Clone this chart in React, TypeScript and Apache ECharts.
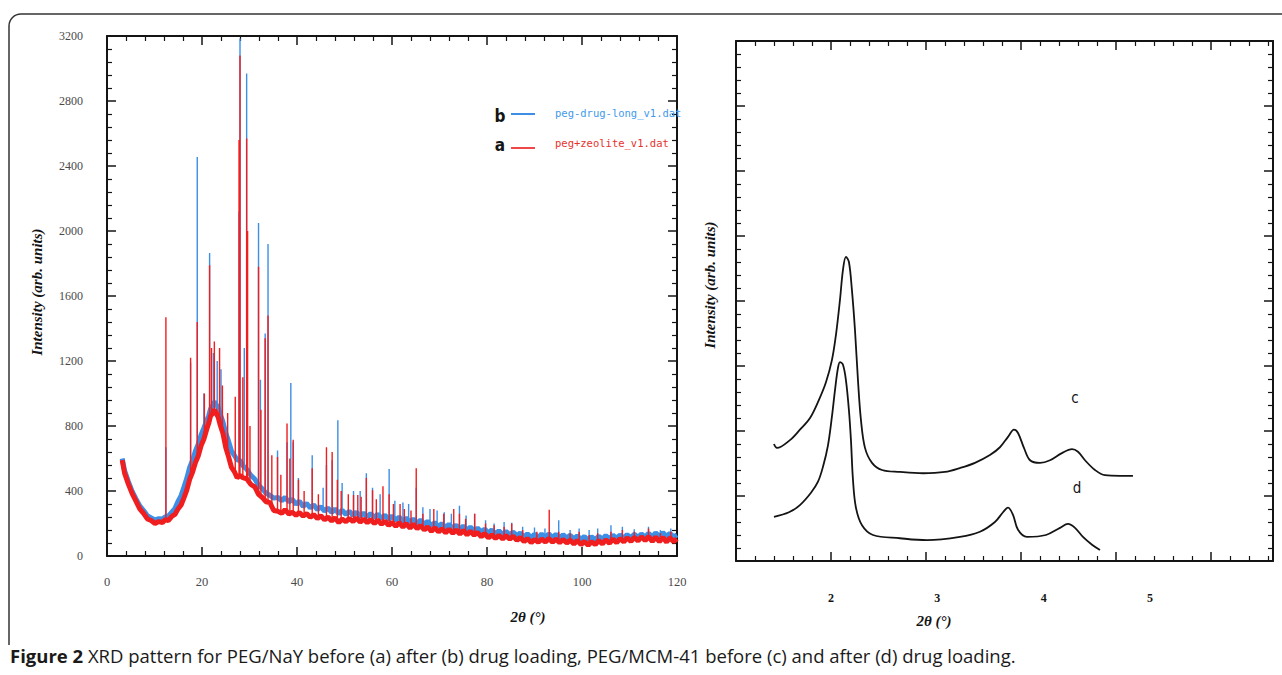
import React, { useEffect, useRef } from "react";
import * as echarts from "echarts";

// ---------- Left panel: XRD of PEG/NaY (a = before, b = after drug loading) ----------
const leftXTickStep = 20;
const leftYTickStep = 400;
const leftXRange = [0, 120];
const leftYRange = [0, 3200];

// noisy background of each pattern, [2θ, intensity]
const bandB: number[][] = [
  [3.2, 600], [3.7, 525], [4.5, 458], [5.3, 398], [6.1, 352], [6.9, 308], [7.7, 280], [8.5, 248],
  [9.3, 235], [10.1, 222], [10.9, 230], [11.7, 228], [12.3, 242], [12.9, 245], [13.7, 272], [14.3, 292],
  [14.9, 333], [15.6, 372], [16.2, 424], [16.8, 478], [17.4, 545], [18.0, 588], [18.6, 645], [19.2, 688],
  [19.8, 745], [20.4, 788], [21.0, 835], [21.4, 862], [21.8, 905], [22.2, 922], [22.6, 950], [23.0, 930],
  [23.4, 915], [23.8, 876], [24.4, 825], [25.0, 756], [25.6, 705], [26.2, 646], [26.8, 620], [27.4, 592],
  [28.0, 588], [28.6, 556], [29.4, 535], [30.3, 496], [31.1, 474], [31.9, 436], [32.7, 414], [33.5, 386],
  [34.3, 374], [35.1, 356],
  [36.0, 360], [36.8, 340], [37.5, 362], [38.3, 332], [39.0, 350], [39.8, 318], [40.5, 338], [41.3, 305],
  [42.0, 325], [42.8, 295], [43.5, 315], [44.3, 285], [45.0, 305], [45.8, 275], [46.5, 296], [47.3, 268],
  [48.0, 290], [48.8, 260], [49.5, 282], [50.3, 255], [51.0, 276], [51.8, 250], [52.5, 270], [53.3, 245],
  [54.0, 265], [54.8, 240], [55.5, 262], [56.3, 236], [57.0, 258], [57.8, 230], [58.5, 252], [59.3, 225],
  [60.0, 246], [60.8, 220], [61.5, 240], [62.3, 213], [63.0, 234], [63.8, 208], [64.5, 228], [65.3, 202],
  [66.0, 222], [66.8, 194], [67.5, 214], [68.3, 186], [69.0, 206], [69.8, 180], [70.5, 200], [71.3, 175],
  [72.0, 195], [72.8, 170], [73.5, 190], [74.3, 165], [75.0, 185], [75.8, 160], [76.5, 178], [77.3, 154],
  [78.0, 172], [78.8, 148], [79.5, 166], [80.3, 142], [81.0, 160], [81.8, 136], [82.5, 155], [83.3, 132],
  [84.0, 152], [84.8, 130], [85.5, 148], [86.3, 124], [87.0, 142], [87.8, 118], [88.5, 136], [89.3, 114],
  [90.0, 134], [90.8, 114], [91.5, 135], [92.3, 115], [93.0, 136], [93.8, 114], [94.5, 133], [95.3, 112],
  [96.0, 131], [96.8, 110], [97.5, 128], [98.3, 106], [99.0, 124], [99.8, 102], [100.5, 120], [101.3, 98],
  [102.0, 118], [102.8, 100], [103.5, 122], [104.3, 104], [105.0, 126], [105.8, 106], [106.5, 128], [107.3, 108],
  [108.0, 130], [108.8, 110], [109.5, 132], [110.3, 112], [111.0, 134], [111.8, 114], [112.5, 136], [113.3, 116],
  [114.0, 140], [114.8, 118], [115.5, 142], [116.3, 120], [117.0, 144], [117.8, 120], [118.5, 140], [119.3, 118],
  [120, 130],
];
const bandA: number[][] = [
  [3.2, 590], [3.7, 510], [4.5, 442], [5.3, 384], [6.1, 338], [6.9, 290], [7.7, 262], [8.5, 228],
  [9.3, 218], [10.1, 200], [10.9, 212], [11.7, 206], [12.3, 224], [12.9, 218], [13.7, 245], [14.3, 256],
  [14.9, 287], [15.6, 314], [16.2, 358], [16.8, 405], [17.4, 472], [18.0, 515], [18.6, 574], [19.2, 615],
  [19.8, 678], [20.4, 720], [21.0, 780], [21.4, 815], [21.8, 862], [22.2, 875], [22.6, 902], [23.0, 876],
  [23.4, 855], [23.8, 810], [24.4, 755], [25.0, 668], [25.6, 610], [26.2, 545], [26.8, 520], [27.4, 482],
  [28.0, 495], [28.6, 482], [29.4, 475], [30.3, 440], [31.1, 425], [31.9, 380], [32.7, 360], [33.5, 334],
  [34.3, 328], [35.1, 280],
  [36.0, 275], [36.8, 262], [37.5, 285], [38.3, 258], [39.0, 270], [39.8, 250], [40.5, 268], [41.3, 245],
  [42.0, 262], [42.8, 238], [43.5, 255], [44.3, 230], [45.0, 248], [45.8, 222], [46.5, 240], [47.3, 215],
  [48.0, 235], [48.8, 205], [49.5, 228], [50.3, 210], [51.0, 232], [51.8, 212], [52.5, 235], [53.3, 208],
  [54.0, 228], [54.8, 205], [55.5, 225], [56.3, 200], [57.0, 222], [57.8, 195], [58.5, 215], [59.3, 188],
  [60.0, 208], [60.8, 182], [61.5, 205], [62.3, 178], [63.0, 200], [63.8, 172], [64.5, 196], [65.3, 168],
  [66.0, 188], [66.8, 160], [67.5, 180], [68.3, 152], [69.0, 175], [69.8, 148], [70.5, 168], [71.3, 142],
  [72.0, 165], [72.8, 140], [73.5, 160], [74.3, 135], [75.0, 158], [75.8, 130], [76.5, 152], [77.3, 128],
  [78.0, 145], [78.8, 118], [79.5, 138], [80.3, 112], [81.0, 130], [81.8, 108], [82.5, 128], [83.3, 105],
  [84.0, 126], [84.8, 104], [85.5, 122], [86.3, 96], [87.0, 115], [87.8, 88], [88.5, 108], [89.3, 82],
  [90.0, 102], [90.8, 84], [91.5, 105], [92.3, 86], [93.0, 108], [93.8, 85], [94.5, 104], [95.3, 82],
  [96.0, 102], [96.8, 80], [97.5, 98], [98.3, 74], [99.0, 95], [99.8, 70], [100.5, 90], [101.3, 66],
  [102.0, 88], [102.8, 70], [103.5, 95], [104.3, 74], [105.0, 100], [105.8, 78], [106.5, 104], [107.3, 82],
  [108.0, 108], [108.8, 86], [109.5, 112], [110.3, 90], [111.0, 115], [111.8, 92], [112.5, 118], [113.3, 95],
  [114.0, 120], [114.8, 90], [115.5, 116], [116.3, 88], [117.0, 114], [117.8, 86], [118.5, 112], [119.3, 88],
  [120, 105],
];

// diffraction peaks: [2θ, background under peak, peak top]
const peaksB: number[][] = [
  [12.4, 240, 670], [17.6, 560, 1190], [19.0, 680, 2455], [20.4, 790, 1000], [21.6, 880, 1865],
  [22.4, 930, 1250], [23.2, 930, 1200], [24.0, 860, 1150], [27.8, 590, 2120], [28.0, 585, 3185],
  [28.9, 550, 1280], [29.4, 530, 2970], [31.9, 440, 2050], [32.3, 430, 1085], [33.3, 395, 1370],
  [33.9, 380, 1920], [35.9, 352, 650], [37.9, 338, 700], [38.7, 335, 1065], [39.2, 330, 700],
  [40.3, 320, 480], [43.2, 300, 620], [45.5, 285, 420], [46.2, 282, 560], [47.4, 275, 590],
  [48.6, 270, 835], [49.5, 268, 450], [51.9, 258, 400], [53.3, 254, 400], [54.6, 250, 510],
  [55.9, 248, 420], [57.5, 243, 380], [59.4, 238, 535], [60.6, 232, 340], [62.3, 225, 330],
  [63.5, 220, 320], [65.1, 215, 420], [66.5, 207, 300], [68.0, 198, 290], [69.5, 193, 280],
  [71.0, 187, 270], [72.5, 182, 260], [74.2, 175, 310], [75.6, 170, 250], [77.4, 163, 260],
  [79.7, 155, 220], [81.5, 148, 200], [83.6, 143, 210], [85.2, 140, 205], [87.5, 130, 180],
  [90.0, 125, 175], [92.2, 125, 170], [95.1, 122, 220], [97.5, 118, 160], [99.4, 115, 170],
  [101.5, 110, 160], [103.3, 112, 170], [106.1, 116, 190], [108.5, 118, 180], [111.0, 122, 165],
  [114.0, 126, 180], [116.5, 129, 160], [118.7, 130, 170],
];
const peaksA: number[][] = [
  [12.4, 222, 1470], [17.6, 490, 1220], [19.0, 600, 1440], [20.5, 740, 1000], [21.6, 840, 1790],
  [22.0, 870, 1280], [22.6, 898, 1320], [23.7, 820, 1280], [24.3, 760, 1050], [25.4, 630, 880],
  [27.0, 505, 980], [27.8, 490, 2560], [28.0, 490, 3080], [28.6, 488, 1100], [29.4, 470, 2570],
  [29.6, 465, 2000], [30.1, 450, 800], [31.9, 386, 1780], [32.4, 365, 900], [33.3, 345, 1340],
  [33.9, 330, 1480], [34.7, 300, 620], [35.9, 278, 610], [36.6, 272, 500], [37.9, 268, 815],
  [38.5, 266, 600], [39.2, 262, 715], [40.3, 258, 470], [41.5, 252, 400], [43.2, 242, 540],
  [44.5, 235, 380], [46.2, 225, 670], [47.4, 220, 640], [48.5, 214, 470], [49.3, 212, 400],
  [50.8, 218, 380], [51.9, 220, 375], [52.8, 222, 375], [53.5, 220, 365], [54.6, 216, 480],
  [55.9, 213, 405], [56.7, 212, 350], [58.1, 205, 430], [59.4, 198, 380], [60.3, 193, 320],
  [61.7, 189, 320], [62.6, 187, 290], [64.0, 183, 280], [65.1, 180, 540], [66.5, 172, 260],
  [68.8, 160, 290], [70.9, 155, 260], [73.0, 150, 290], [74.2, 147, 260], [75.5, 144, 230],
  [77.4, 138, 260], [79.7, 127, 200], [81.5, 119, 190], [83.6, 120, 180], [85.2, 119, 200],
  [87.5, 106, 160], [90.5, 99, 150], [93.1, 103, 285], [95.1, 100, 150], [97.5, 97, 140],
  [99.4, 90, 150], [101.5, 84, 130], [103.3, 88, 140], [106.1, 93, 150], [108.5, 100, 160],
  [111.0, 106, 150], [114.0, 108, 170], [116.5, 105, 140], [118.7, 103, 150],
];

// ---------- Right panel: PEG/MCM-41 (c = before, d = after drug loading) ----------
const rightXLabels = [2, 3, 4, 5];
const rightXRange = [1.107, 6.157];
const rightFrameTicks = [0, 5.65]; // frame tick scale copied from the left panel frame
const rightYRange = [0, 8];

const curveC: number[][] = [
  [1.464, 1.8], [1.492, 1.74], [1.614, 1.86], [1.708, 2.02], [1.803, 2.2], [1.887, 2.48], [1.953, 2.75],
  [2.009, 3.09], [2.047, 3.48], [2.085, 4.02], [2.113, 4.48], [2.141, 4.68], [2.169, 4.6], [2.197, 4.17],
  [2.226, 3.55], [2.254, 2.78], [2.282, 2.17], [2.32, 1.74], [2.386, 1.51], [2.48, 1.4], [2.649, 1.37],
  [2.865, 1.35], [3.072, 1.37], [3.213, 1.43], [3.354, 1.51], [3.495, 1.63], [3.589, 1.75], [3.665, 1.91],
  [3.721, 2.02], [3.759, 1.97], [3.815, 1.74], [3.872, 1.55], [3.966, 1.51], [4.06, 1.55], [4.172, 1.66],
  [4.267, 1.72], [4.323, 1.68], [4.389, 1.55], [4.483, 1.4], [4.577, 1.32], [4.718, 1.31], [4.84, 1.31],
];
const curveD: number[][] = [
  [1.464, 0.68], [1.605, 0.75], [1.708, 0.86], [1.812, 1.05], [1.878, 1.22], [1.925, 1.45], [1.972, 1.78],
  [2.009, 2.22], [2.038, 2.63], [2.066, 2.97], [2.085, 3.06], [2.113, 3.02], [2.141, 2.78], [2.169, 2.32],
  [2.188, 1.86], [2.207, 1.25], [2.235, 0.82], [2.292, 0.55], [2.395, 0.4], [2.649, 0.35], [2.903, 0.32],
  [3.213, 0.37], [3.401, 0.45], [3.542, 0.6], [3.618, 0.75], [3.665, 0.82], [3.712, 0.71], [3.759, 0.48],
  [3.843, 0.37], [4.022, 0.4], [4.154, 0.51], [4.229, 0.57], [4.295, 0.51], [4.37, 0.37], [4.455, 0.25],
  [4.53, 0.17],
];

const SERIF = "'Liberation Serif', 'DejaVu Serif', serif";
const COND = "'DejaVu Sans Condensed', 'DejaVu Sans', sans-serif";
const MONO = "'DejaVu Sans Mono', 'Liberation Mono', monospace";
const CAPTION = "'Open Sans', 'Noto Sans', sans-serif";
const BLUE = "#3d8fe6";
const RED = "#f01e1e";
const INK = "#141414";

function spikes(peaks: number[][]) {
  const out: any[] = [];
  peaks.forEach(([x, b, t]) => {
    out.push([x, b], [x, t], [x, b], [x, "-"]);
  });
  return out;
}

function frameAxis(extra: any) {
  return {
    type: "value",
    axisLine: { show: true, onZero: false, lineStyle: { color: INK, width: 2 } },
    axisTick: { show: true, inside: true, length: 9, lineStyle: { color: INK, width: 1.5 } },
    minorTick: { show: true, splitNumber: 5, length: 5, lineStyle: { color: INK, width: 1.2 } },
    splitLine: { show: false },
    minorSplitLine: { show: false },
    axisLabel: { show: false },
    ...extra,
  };
}

export default function App() {
  const ref = useRef<HTMLDivElement>(null);
  useEffect(() => {
    document.body.style.margin = "0";
    const chart = echarts.init(ref.current!, null, { renderer: "svg" });
    const leftLabel = { show: true, color: "#4a4a4a", fontFamily: SERIF, fontSize: 12, formatter: (v: number) => String(v) };
    const titleStyle = { fontFamily: SERIF, fontStyle: "italic", fontWeight: "bold", fontSize: 15, fill: INK, align: "center", verticalAlign: "middle" };
    chart.setOption({
      animation: false,
      backgroundColor: "#ffffff",
      grid: [
        { left: 107, right: 605, top: 36, bottom: 119, outerBoundsMode: "none" },
        { left: 736, right: 9, top: 41, bottom: 114, outerBoundsMode: "none" },
      ],
      xAxis: [
        frameAxis({ gridIndex: 0, position: "bottom", min: leftXRange[0], max: leftXRange[1], interval: leftXTickStep,
          axisLabel: { ...leftLabel, fontSize: 12.5, margin: 19 } }),
        frameAxis({ gridIndex: 0, position: "top", min: leftXRange[0], max: leftXRange[1], interval: leftXTickStep }),
        {
          type: "value", gridIndex: 1, position: "bottom", min: rightXRange[0], max: rightXRange[1],
          axisLine: { show: false }, axisTick: { show: false }, splitLine: { show: false },
          axisLabel: { show: true, customValues: rightXLabels, color: INK, fontFamily: SERIF, fontWeight: "bold", fontSize: 12, margin: 31 },
        },
        frameAxis({ gridIndex: 1, position: "bottom", min: rightFrameTicks[0], max: rightFrameTicks[1], interval: 1 }),
        frameAxis({ gridIndex: 1, position: "top", min: rightFrameTicks[0], max: rightFrameTicks[1], interval: 1 }),
      ],
      yAxis: [
        frameAxis({ gridIndex: 0, position: "left", min: leftYRange[0], max: leftYRange[1], interval: leftYTickStep,
          axisLabel: { ...leftLabel, margin: 24 } }),
        frameAxis({ gridIndex: 0, position: "right", min: leftYRange[0], max: leftYRange[1], interval: leftYTickStep }),
        frameAxis({ gridIndex: 1, position: "left", min: rightYRange[0], max: rightYRange[1], interval: 1 }),
        frameAxis({ gridIndex: 1, position: "right", min: rightYRange[0], max: rightYRange[1], interval: 1 }),
      ],
      series: [
        { name: "peg-drug-long_v1.dat", type: "line", xAxisIndex: 0, yAxisIndex: 0, data: bandB, showSymbol: false,
          lineStyle: { color: BLUE, width: 5 }, itemStyle: { color: BLUE }, z: 2 },
        { name: "peg-drug-long_v1.dat peaks", type: "line", xAxisIndex: 0, yAxisIndex: 0, data: spikes(peaksB), showSymbol: false,
          lineStyle: { color: BLUE, width: 1.4 }, itemStyle: { color: BLUE }, z: 3 },
        { name: "peg+zeolite_v1.dat", type: "line", xAxisIndex: 0, yAxisIndex: 0, data: bandA, showSymbol: false,
          lineStyle: { color: RED, width: 5 }, itemStyle: { color: RED }, z: 4 },
        { name: "peg+zeolite_v1.dat peaks", type: "line", xAxisIndex: 0, yAxisIndex: 0, data: spikes(peaksA), showSymbol: false,
          lineStyle: { color: RED, width: 1.4 }, itemStyle: { color: RED }, z: 5 },
        { name: "c", type: "line", xAxisIndex: 2, yAxisIndex: 2, data: curveC, showSymbol: false, smooth: 0.35,
          lineStyle: { color: INK, width: 1.8 }, itemStyle: { color: INK } },
        { name: "d", type: "line", xAxisIndex: 2, yAxisIndex: 2, data: curveD, showSymbol: false, smooth: 0.35,
          lineStyle: { color: INK, width: 1.8 }, itemStyle: { color: INK } },
      ],
      graphic: [
        // rounded figure border
        { type: "line", shape: { x1: 9, y1: 26, x2: 9, y2: 645 }, style: { stroke: "#333", lineWidth: 1.5 } },
        { type: "arc", shape: { cx: 21, cy: 26, r: 12, startAngle: Math.PI, endAngle: Math.PI * 1.5, clockwise: true },
          style: { stroke: "#333", lineWidth: 1.5, fill: "none" } },
        { type: "line", shape: { x1: 21, y1: 14, x2: 1282, y2: 14 }, style: { stroke: "#333", lineWidth: 1.5 } },
        // legend of left panel
        { type: "text", x: 500, y: 116, style: { text: "b", fontFamily: COND, fontWeight: "bold", fontSize: 17, fill: INK, align: "center", verticalAlign: "middle" } },
        { type: "line", shape: { x1: 511, y1: 114, x2: 535, y2: 114 }, style: { stroke: BLUE, lineWidth: 2 } },
        { type: "text", x: 555, y: 113, z: 10, style: { text: "peg-drug-long_v1.dat", fontFamily: MONO, fontSize: 10.5, fill: "#3f9aea", verticalAlign: "middle" } },
        { type: "text", x: 500, y: 145, style: { text: "a", fontFamily: COND, fontWeight: "bold", fontSize: 17, fill: INK, align: "center", verticalAlign: "middle" } },
        { type: "line", shape: { x1: 511, y1: 148, x2: 535, y2: 148 }, style: { stroke: "#f04848", lineWidth: 2 } },
        { type: "text", x: 555, y: 143, style: { text: "peg+zeolite_v1.dat", fontFamily: MONO, fontSize: 10.5, fill: "#e8322c", verticalAlign: "middle" } },
        // axis titles
        { type: "text", x: 37, y: 292, rotation: Math.PI / 2, style: { text: "Intensity (arb. units)", ...titleStyle } },
        { type: "text", x: 710, y: 285, rotation: Math.PI / 2, style: { text: "Intensity (arb. units)", ...titleStyle } },
        { type: "text", x: 528, y: 617, style: { text: "2θ (°)", ...titleStyle } },
        { type: "text", x: 934, y: 621, style: { text: "2θ (°)", ...titleStyle } },
        // curve labels
        { type: "text", x: 1075, y: 398, style: { text: "c", fontFamily: COND, fontSize: 15, fill: INK, align: "center", verticalAlign: "middle" } },
        { type: "text", x: 1077, y: 488, style: { text: "d", fontFamily: COND, fontSize: 15, fill: INK, align: "center", verticalAlign: "middle" } },
        // caption
        { type: "text", x: 10, y: 655, style: {
            text: "{b|Figure 2} XRD pattern for PEG/NaY before (a) after (b) drug loading, PEG/MCM-41 before (c) and after (d) drug loading.",
            fontFamily: CAPTION, fontSize: 18.5, fill: "#1a1a1a", verticalAlign: "middle",
            rich: { b: { fontFamily: CAPTION, fontSize: 18.5, fontWeight: "bold", fill: "#1a1a1a" } },
          } },
      ],
    });
    return () => chart.dispose();
  }, []);
  return <div ref={ref} style={{ position: "fixed", left: 0, top: 0, width: 1282, height: 675 }} />;
}
